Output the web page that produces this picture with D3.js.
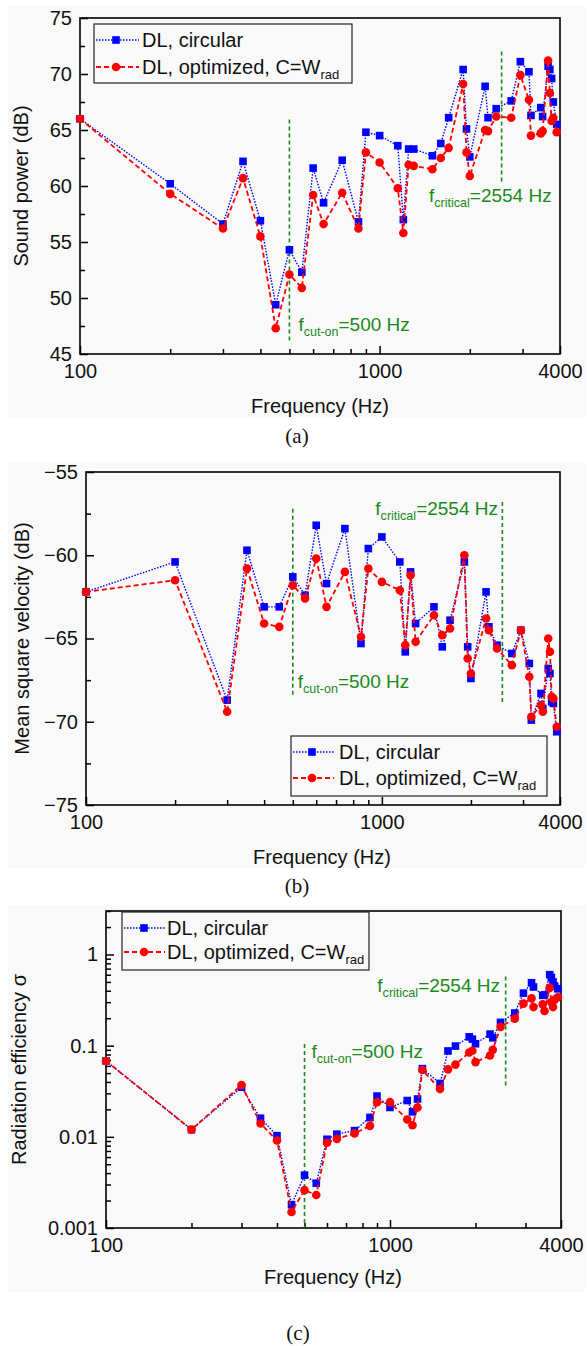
<!DOCTYPE html>
<html>
<head>
<meta charset="utf-8">
<script src="https://cdn.jsdelivr.net/npm/d3@7"></script>
<style>
body { margin: 0; background: #fff; }
svg text { font-family: 'Liberation Sans', Arial, sans-serif; }
</style>
</head>
<body>
<div id="chart-area"></div>
<script>
// frequencies shared by the three panels (Hz)
const freqHz = [100, 200, 300, 350, 400, 450, 500, 550, 600, 650, 750, 850, 900, 1000,
    1150, 1200, 1250, 1300, 1500, 1600, 1700, 1900, 1950, 2000, 2250, 2300, 2450,
    2750, 2950, 3150, 3200, 3450, 3500, 3650, 3700, 3750, 3800, 3900];

// (a) sound power, dB
const powerCircular = [66.0, 60.2, 56.6, 62.2, 56.9, 49.4, 54.3, 52.3, 61.6, 58.5, 62.3, 56.8, 64.8, 64.5,
    63.6, 57.0, 63.3, 63.3, 62.7, 63.8, 66.1, 70.4, 65.1, 62.6, 68.9, 66.1, 66.9,
    67.6, 71.1, 70.2, 66.3, 67.0, 66.2, 70.7, 70.4, 69.6, 67.5, 65.5];
const powerOptimized = [66.0, 59.3, 56.2, 60.7, 55.5, 47.3, 52.1, 50.9, 59.2, 56.6, 59.4, 56.2, 63.0, 62.1,
    59.8, 55.8, 61.9, 61.8, 61.5, 62.5, 63.4, 69.1, 63.0, 60.9, 65.0, 64.9, 66.2,
    66.1, 69.9, 67.7, 64.5, 64.7, 64.9, 71.2, 68.3, 65.8, 66.1, 64.8];

// (b) mean square velocity, dB
const velCircular = [-62.2, -60.4, -68.7, -59.7, -63.1, -63.1, -61.3, -62.4, -58.2, -61.7, -58.4, -65.3, -59.6, -58.9,
    -60.4, -65.8, -61.0, -64.1, -63.1, -65.5, -63.9, -60.4, -65.5, -67.4, -62.2, -64.3, -65.4,
    -65.9, -64.5, -66.5, -69.9, -68.3, -69.2, -66.8, -67.1, -68.8, -68.9, -70.6];
const velOptimized = [-62.2, -61.5, -69.4, -60.8, -64.1, -64.3, -61.8, -62.6, -60.2, -63.1, -61.0, -64.9, -60.8, -61.6,
    -62.1, -65.4, -61.2, -65.2, -63.6, -64.8, -64.4, -60.0, -66.2, -67.1, -63.8, -64.5, -65.6,
    -66.6, -64.5, -67.3, -69.7, -69.0, -69.4, -65.0, -65.8, -68.5, -68.6, -70.3];

// (c) radiation efficiency
const sigmaCircular = [0.068, 0.012, 0.035, 0.016, 0.0103, 0.0018, 0.0038, 0.0031, 0.0094, 0.0107, 0.0117, 0.0163, 0.028, 0.021,
    0.025, 0.0188, 0.026, 0.056, 0.0385, 0.0875, 0.099, 0.125, 0.118, 0.105, 0.134, 0.122, 0.18,
    0.228, 0.377, 0.49, 0.44, 0.356, 0.36, 0.60, 0.56, 0.50, 0.45, 0.42];
const sigmaOptimized = [0.068, 0.012, 0.037, 0.014, 0.0091, 0.0015, 0.0026, 0.0023, 0.0086, 0.0095, 0.0109, 0.0132, 0.024, 0.024,
    0.0155, 0.0134, 0.021, 0.054, 0.0334, 0.055, 0.062, 0.084, 0.088, 0.066, 0.078, 0.090, 0.16,
    0.198, 0.289, 0.33, 0.265, 0.284, 0.24, 0.43, 0.30, 0.265, 0.32, 0.34];

const cutOnHz = 500;
const criticalHz = 2554;

const xMajorTicks = [100, 1000, 4000];
const xMinorTicks = [200, 300, 400, 500, 600, 700, 800, 900, 2000, 3000];

const blue = "#0000ff";
const red = "#ff0000";
const green = "#1a8a1a";
const sans = "'Liberation Sans', Arial, sans-serif";

const svg = d3.select("#chart-area")
    .append("svg")
    .attr("width", 587)
    .attr("height", 1346);

const panels = [
    {
        left: 80, right: 560, top: 18, bottom: 354,
        log: false, yDomain: [45, 75],
        yMajor: d3.range(45, 76, 5), yMinor: d3.range(47.5, 75, 5),
        yFormat: d3.format("d"),
        circ: powerCircular, opt: powerOptimized,
        yTitle: "Sound power (dB)", yTitleX: 21,
        cutOn: [46.2, 66], cutOnLabel: { dx: 9, y: 331 },
        crit: [60.4, 72.2], critLabel: { x: 429, y: 202, anchor: "start" },
        legend: { x: 94, y: 24, w: 258, h: 59, rows: [40, 67], l0: 96, l1: 139, m: 116, t: 142 },
        xTitle: { x: 320, y: 413 }, caption: { text: "(a)", x: 297, y: 443 },
        bg: [5, 418]
    },
    {
        left: 86, right: 560, top: 472, bottom: 805,
        log: false, yDomain: [-75, -55],
        yMajor: d3.range(-75, -54, 5), yMinor: d3.range(-72.5, -55, 5),
        yFormat: d3.format("d"),
        circ: velCircular, opt: velOptimized,
        yTitle: "Mean square velocity (dB)", yTitleX: 22,
        cutOn: [-57.2, -68.55], cutOnLabel: { dx: 5, y: 688 },
        crit: [-56.8, -69.0], critLabel: { x: 498, y: 515, anchor: "end" },
        legend: { x: 291, y: 736, w: 256, h: 60, rows: [752, 778], l0: 293, l1: 334, m: 312, t: 339 },
        xTitle: { x: 322, y: 864 }, caption: { text: "(b)", x: 297, y: 893 },
        bg: [462, 868]
    },
    {
        left: 106, right: 561, top: 911, bottom: 1228,
        log: true, yDomain: [0.001, 3],
        yMajor: [0.001, 0.01, 0.1, 1],
        yMinor: [0.001, 0.01, 0.1, 1].flatMap(d => d3.range(2, 10).map(k => k * d)).filter(v => v <= 3),
        yFormat: d => String(d),
        circ: sigmaCircular, opt: sigmaOptimized,
        yTitle: "Radiation efficiency \u03c3", yTitleX: 19,
        cutOn: [0.104, 0.001], cutOnLabel: { dx: 7, y: 1058 },
        crit: [0.574, 0.035], critLabel: { x: 500, y: 992, anchor: "end" },
        legend: { x: 122, y: 912, w: 247, h: 58, rows: [928, 952], l0: 124, l1: 165, m: 144, t: 167 },
        xTitle: { x: 333, y: 1284 }, caption: { text: "(c)", x: 298, y: 1340 },
        bg: [905, 1292]
    }
];

const addSubLabel = (g, x, y, anchor, sub, rest, size) => {
    const t = g.append("text")
        .attr("x", x).attr("y", y)
        .attr("text-anchor", anchor)
        .attr("font-size", size + "px")
        .attr("fill", green);
    t.append("tspan").text("f");
    t.append("tspan").attr("font-size", (size * 0.66) + "px").attr("dy", 5).text(sub);
    t.append("tspan").attr("dy", -5).text(rest);
};

const drawMarker = (g, kind, cx, cy) => {
    if (kind === "square") {
        g.append("rect")
            .attr("x", cx - 3.8).attr("y", cy - 3.8)
            .attr("width", 7.6).attr("height", 7.6)
            .attr("fill", blue);
    } else {
        g.append("circle")
            .attr("cx", cx).attr("cy", cy).attr("r", 4.3)
            .attr("fill", red);
    }
};

const drawPanel = (p) => {
    svg.append("rect")
        .attr("x", 8).attr("y", p.bg[0])
        .attr("width", 577).attr("height", p.bg[1] - p.bg[0])
        .attr("fill", "#f9f9f9");

    const x = d3.scaleLog().domain([100, 4000]).range([p.left, p.right]);
    const y = (p.log ? d3.scaleLog() : d3.scaleLinear())
        .domain(p.yDomain).range([p.bottom, p.top]);

    // x ticks (inside)
    svg.append("g")
        .attr("transform", "translate(0," + p.bottom + ")")
        .call(d3.axisBottom(x).tickValues(xMinorTicks).tickSizeInner(-5).tickSizeOuter(0).tickFormat(""));
    svg.append("g")
        .attr("transform", "translate(0," + p.bottom + ")")
        .call(d3.axisBottom(x).tickValues(xMajorTicks).tickSizeInner(-8).tickSizeOuter(0)
            .tickPadding(10).tickFormat(d3.format("d")));

    // y ticks (inside)
    svg.append("g")
        .attr("transform", "translate(" + p.left + ",0)")
        .call(d3.axisLeft(y).tickValues(p.yMinor).tickSizeInner(-5).tickSizeOuter(0).tickFormat(""));
    svg.append("g")
        .attr("transform", "translate(" + p.left + ",0)")
        .call(d3.axisLeft(y).tickValues(p.yMajor).tickSizeInner(-8).tickSizeOuter(0)
            .tickPadding(8).tickFormat(p.yFormat));

    svg.selectAll(".domain").remove();
    svg.selectAll(".tick line").attr("stroke", "#000").attr("stroke-width", 1.5);
    svg.selectAll(".tick text").attr("font-size", "20px").attr("fill", "#111")
        .style("font-family", sans);

    svg.append("rect")
        .attr("x", p.left).attr("y", p.top)
        .attr("width", p.right - p.left).attr("height", p.bottom - p.top)
        .attr("fill", "none").attr("stroke", "#000").attr("stroke-width", 1.6);

    // reference lines
    const g = svg.append("g");
    g.append("line")
        .attr("x1", x(cutOnHz)).attr("x2", x(cutOnHz))
        .attr("y1", y(p.cutOn[0])).attr("y2", y(p.cutOn[1]))
        .attr("stroke", green).attr("stroke-width", 1.6).attr("stroke-dasharray", "4,3");
    g.append("line")
        .attr("x1", x(criticalHz)).attr("x2", x(criticalHz))
        .attr("y1", y(p.crit[0])).attr("y2", y(p.crit[1]))
        .attr("stroke", green).attr("stroke-width", 1.6).attr("stroke-dasharray", "4,3");
    addSubLabel(g, x(cutOnHz) + p.cutOnLabel.dx, p.cutOnLabel.y, "start", "cut-on", "=500 Hz", 19);
    addSubLabel(g, p.critLabel.x, p.critLabel.y, p.critLabel.anchor, "critical", "=2554 Hz", 19);

    // series
    const line = d3.line().x(d => x(d[0])).y(d => y(d[1]));
    const circ = freqHz.map((f, i) => [f, p.circ[i]]);
    const opt = freqHz.map((f, i) => [f, p.opt[i]]);

    g.append("path").attr("d", line(circ))
        .attr("fill", "none").attr("stroke", blue).attr("stroke-width", 1.4)
        .attr("stroke-dasharray", "1.5,1.5");
    circ.forEach(d => drawMarker(g, "square", x(d[0]), y(d[1])));

    g.append("path").attr("d", line(opt))
        .attr("fill", "none").attr("stroke", red).attr("stroke-width", 1.8)
        .attr("stroke-dasharray", "5,3");
    opt.forEach(d => drawMarker(g, "circle", x(d[0]), y(d[1])));

    // legend
    const L = p.legend;
    g.append("rect")
        .attr("x", L.x).attr("y", L.y).attr("width", L.w).attr("height", L.h)
        .attr("fill", "none").attr("stroke", "#222").attr("stroke-width", 1.2);
    g.append("line").attr("x1", L.l0).attr("x2", L.l1).attr("y1", L.rows[0]).attr("y2", L.rows[0])
        .attr("stroke", blue).attr("stroke-width", 1.4).attr("stroke-dasharray", "1.5,1.5");
    drawMarker(g, "square", L.m, L.rows[0]);
    g.append("text").attr("x", L.t).attr("y", L.rows[0] + 7).attr("font-size", "20px")
        .attr("fill", "#111").text("DL, circular");
    g.append("line").attr("x1", L.l0).attr("x2", L.l1).attr("y1", L.rows[1]).attr("y2", L.rows[1])
        .attr("stroke", red).attr("stroke-width", 1.8).attr("stroke-dasharray", "5,3");
    drawMarker(g, "circle", L.m, L.rows[1]);
    const lt = g.append("text").attr("x", L.t).attr("y", L.rows[1] + 7).attr("font-size", "20px")
        .attr("fill", "#111");
    lt.append("tspan").text("DL, optimized, C=W");
    lt.append("tspan").attr("font-size", "13px").attr("dy", 5).text("rad");

    // axis titles
    svg.append("text")
        .attr("transform", "translate(" + (p.yTitleX + 7) + "," + ((p.top + p.bottom) / 2) + ") rotate(-90)")
        .attr("text-anchor", "middle").attr("font-size", "20px").attr("fill", "#111")
        .text(p.yTitle);
    svg.append("text")
        .attr("x", p.xTitle.x).attr("y", p.xTitle.y)
        .attr("text-anchor", "middle").attr("font-size", "20px").attr("fill", "#111")
        .text("Frequency (Hz)");
    svg.append("text")
        .attr("x", p.caption.x).attr("y", p.caption.y)
        .attr("text-anchor", "middle").attr("font-size", "21px").attr("fill", "#111")
        .style("font-family", "'Liberation Serif', 'Times New Roman', serif")
        .text(p.caption.text);
};

panels.forEach(drawPanel);
</script>
</body>
</html>
